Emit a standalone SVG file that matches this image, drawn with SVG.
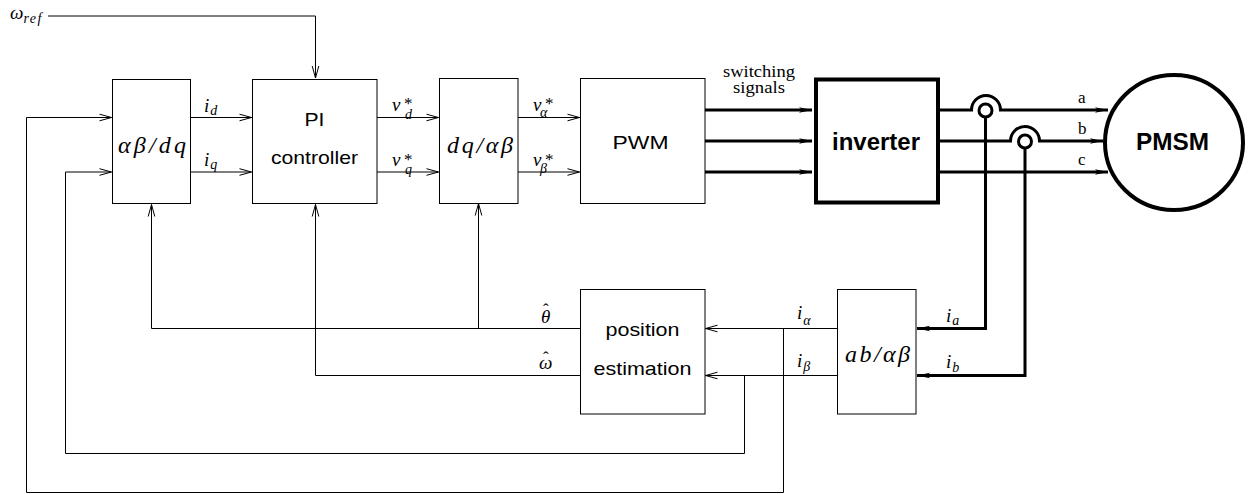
<svg xmlns="http://www.w3.org/2000/svg" width="1254" height="494" viewBox="0 0 1254 494">
<style>
.box{fill:#fff;stroke:#000;stroke-width:1}
.thin{fill:none;stroke:#000;stroke-width:1}
.thick{fill:none;stroke:#000;stroke-width:3}
.sans{font-family:"Liberation Sans",Arial,sans-serif;font-size:18.5px;fill:#000}
.bold{font-family:"Liberation Sans",Arial,sans-serif;font-size:24px;font-weight:bold;fill:#000}
.m{font-family:"Liberation Serif","Times New Roman",serif;font-style:italic;font-size:19px;fill:#000}
.mb{font-family:"Liberation Serif","Times New Roman",serif;font-style:italic;font-size:24px;fill:#000}
.ms{font-family:"Liberation Serif","Times New Roman",serif;font-style:italic;font-size:14px;fill:#000}
.st{font-family:"Liberation Serif","Times New Roman",serif;font-style:normal;font-size:17px;fill:#000}
.rm{font-family:"Liberation Serif","Times New Roman",serif;font-size:17px;fill:#000}
</style>
<defs>
<marker id="a" markerUnits="userSpaceOnUse" markerWidth="16" markerHeight="10" viewBox="-14 -5 16 10" refX="0" refY="0" orient="auto">
<path d="M-12,-3.3 L0,0 L-12,3.3" fill="none" stroke="#000" stroke-width="1"/>
</marker>
<marker id="t" markerUnits="userSpaceOnUse" markerWidth="16" markerHeight="10" viewBox="-14 -5 16 10" refX="0" refY="0" orient="auto">
<path d="M0,0 L-13,-2.8 L-10,0 L-13,2.8 z" fill="#000"/>
</marker>
</defs>

<g id="connectors">
<path class="thin" d="M48,16 H315.5 V78" marker-end="url(#a)"/>
<path class="thin" d="M190,117.5 H251.5" marker-end="url(#a)"/>
<path class="thin" d="M190,172 H251.5" marker-end="url(#a)"/>
<path class="thin" d="M377,117.5 H438.5" marker-end="url(#a)"/>
<path class="thin" d="M377,172 H438.5" marker-end="url(#a)"/>
<path class="thin" d="M518,117.5 H579.5" marker-end="url(#a)"/>
<path class="thin" d="M518,172 H579.5" marker-end="url(#a)"/>
<path class="thin" d="M580,328.5 H151.5 V204.5" marker-end="url(#a)"/>
<path class="thin" d="M478.5,328.5 V203.5" marker-end="url(#a)"/>
<path class="thin" d="M580,375.5 H315.5 V204.5" marker-end="url(#a)"/>
<path class="thin" d="M837,328.5 H705.5" marker-end="url(#a)"/>
<path class="thin" d="M837,375.5 H705.5" marker-end="url(#a)"/>
<path class="thin" d="M783.5,328.5 V492.5 H26.5 V117.5 H111.5" marker-end="url(#a)"/>
<path class="thin" d="M744.5,375.5 V453.5 H65.5 V172 H111.5" marker-end="url(#a)"/>
<path class="thick" d="M705,110 H812" marker-end="url(#t)"/>
<path class="thick" d="M705,141 H812" marker-end="url(#t)"/>
<path class="thick" d="M705,172 H812" marker-end="url(#t)"/>
<path class="thick" d="M940,110 H971.5 A14.5,14.5 0 0 1 1000.5,110 H1108" marker-end="url(#t)"/>
<path class="thick" d="M940,141 H1010.5 A14.5,14.5 0 0 1 1039.5,141 H1103" marker-end="url(#t)"/>
<path class="thick" d="M940,172 H1108" marker-end="url(#t)"/>
<path class="thick" d="M985.5,117 V328.5 H917" marker-end="url(#t)"/>
<path class="thick" d="M1025,148 V375.5 H917" marker-end="url(#t)"/>
<circle cx="985.5" cy="110.5" r="6.5" fill="#fff" stroke="#000" stroke-width="3"/>
<circle cx="1025" cy="141.5" r="6.5" fill="#fff" stroke="#000" stroke-width="3"/>
</g>

<g id="labels">
<text class="m" x="10" y="18.5" font-size="22">ω<tspan class="ms" dy="4" letter-spacing="1.5">ref</tspan></text>
<text class="m" x="204" y="111.5">i<tspan class="ms" dx="1" dy="3.5">d</tspan></text>
<text class="m" x="204" y="166">i<tspan class="ms" dx="1" dy="2.5">q</tspan></text>
<text class="m" x="392" y="110.5">v<tspan class="st" x="404" dy="-1.5">*</tspan><tspan class="ms" x="405" dy="10">d</tspan></text>
<text class="m" x="392" y="166">v<tspan class="st" x="404" dy="-1.5">*</tspan><tspan class="ms" x="405" dy="9">q</tspan></text>
<text class="m" x="533" y="110.5">v<tspan class="st" x="545" dy="-1.5">*</tspan><tspan class="ms" x="540" dy="8">α</tspan></text>
<text class="m" x="533" y="166">v<tspan class="st" x="545" dy="-1.5">*</tspan><tspan class="ms" x="540" dy="8">β</tspan></text>
<text class="st" x="759" y="76.5" font-size="16" text-anchor="middle" textLength="72" lengthAdjust="spacingAndGlyphs">switching</text>
<text class="st" x="759" y="92.5" font-size="16" text-anchor="middle" textLength="52" lengthAdjust="spacingAndGlyphs">signals</text>
<text class="rm" x="1078" y="102.5">a</text>
<text class="rm" x="1078" y="134">b</text>
<text class="rm" x="1078" y="165">c</text>
<text class="m" x="541" y="322.5">θ<tspan class="st" x="543" dy="-8">ˆ</tspan></text>
<text class="m" x="539" y="369">ω<tspan class="st" x="543" dy="-6">ˆ</tspan></text>
<text class="m" x="797" y="318.5">i<tspan class="ms" dx="1" dy="6">α</tspan></text>
<text class="m" x="797" y="366.5">i<tspan class="ms" dx="1" dy="4">β</tspan></text>
<text class="m" x="946" y="321.5">i<tspan class="ms" dx="1" dy="3">a</tspan></text>
<text class="m" x="946" y="368">i<tspan class="ms" dx="1" dy="3.5">b</tspan></text>
</g>

<g id="alphabeta-dq">
<rect class="box" x="112.5" y="79.5" width="78" height="124"/>
<text class="mb" x="118" y="153" textLength="68" lengthAdjust="spacing">αβ/dq</text>
</g>
<g id="pi-controller">
<rect class="box" x="252.5" y="79.5" width="124.5" height="124"/>
<text class="sans" x="314.5" y="126" text-anchor="middle" textLength="20" lengthAdjust="spacingAndGlyphs">PI</text>
<text class="sans" x="314.5" y="164" text-anchor="middle" textLength="87" lengthAdjust="spacingAndGlyphs">controller</text>
</g>
<g id="dq-alphabeta">
<rect class="box" x="439.5" y="78.5" width="78.5" height="125"/>
<text class="mb" x="447" y="153" textLength="66" lengthAdjust="spacing">dq/αβ</text>
</g>
<g id="pwm">
<rect class="box" x="580.5" y="78.5" width="124.5" height="125"/>
<text class="sans" x="640.5" y="149" text-anchor="middle" textLength="56" lengthAdjust="spacingAndGlyphs">PWM</text>
</g>
<g id="inverter">
<rect x="816" y="79.5" width="122" height="123" fill="#fff" stroke="#000" stroke-width="4"/>
<text class="bold" x="876" y="149.5" text-anchor="middle" textLength="88" lengthAdjust="spacingAndGlyphs">inverter</text>
</g>
<g id="pmsm">
<ellipse cx="1174" cy="142.5" rx="69" ry="67.5" fill="#fff" stroke="#000" stroke-width="4"/>
<text class="bold" x="1172.5" y="149.5" text-anchor="middle" textLength="73" lengthAdjust="spacingAndGlyphs">PMSM</text>
</g>
<g id="position-estimation">
<rect class="box" x="580.5" y="289.5" width="124.5" height="124.5"/>
<text class="sans" x="642.5" y="336" text-anchor="middle" textLength="74" lengthAdjust="spacingAndGlyphs">position</text>
<text class="sans" x="642.5" y="375" text-anchor="middle" textLength="98" lengthAdjust="spacingAndGlyphs">estimation</text>
</g>
<g id="ab-alphabeta">
<rect class="box" x="837.5" y="289.5" width="78.5" height="124.5"/>
<text class="mb" x="845" y="362" textLength="65" lengthAdjust="spacing">ab/αβ</text>
</g>
</svg>
